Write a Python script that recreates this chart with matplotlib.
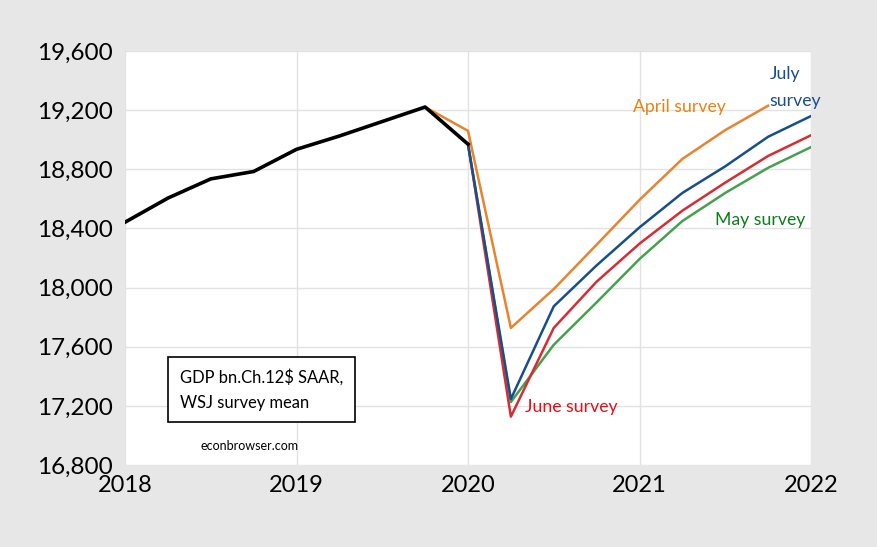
import matplotlib.pyplot as plt

# quarterly dates (decimal years)
actual_dates = [2018.0, 2018.25, 2018.5, 2018.75, 2019.0, 2019.25, 2019.5, 2019.75, 2020.0]
actual_gdp = [18442, 18605, 18735, 18785, 18935, 19025, 19123, 19221, 18970]

april_dates = [2019.75, 2020.0, 2020.25, 2020.5, 2020.75, 2021.0, 2021.25, 2021.5, 2021.75]
april_gdp = [19221, 19060, 17727, 17990, 18290, 18593, 18870, 19065, 19230]

survey_dates = [2020.0, 2020.25, 2020.5, 2020.75, 2021.0, 2021.25, 2021.5, 2021.75, 2022.0]
may_gdp = [18970, 17226, 17613, 17900, 18193, 18450, 18640, 18810, 18950]
june_gdp = [18970, 17127, 17727, 18040, 18297, 18520, 18710, 18890, 19030]
july_gdp = [18970, 17246, 17873, 18150, 18407, 18640, 18820, 19020, 19160]

yticks = [16800, 17200, 17600, 18000, 18400, 18800, 19200, 19600]
xticks = [2018, 2019, 2020, 2021, 2022]

bg = '#e7e7e7'
plt.rcParams['font.family'] = ['Lato', 'DejaVu Sans']

fig = plt.figure(figsize=(8.78, 5.47), dpi=100, facecolor=bg)
ax = fig.add_axes([125/878, 1 - 465/547, (811 - 125)/878, (465 - 51)/547])
ax.set_facecolor('white')

ax.plot(april_dates, april_gdp, color='#e8832f', lw=1.8)
ax.plot(survey_dates, may_gdp, color='#46a050', lw=1.8)
ax.plot(survey_dates, june_gdp, color='#d62d34', lw=1.8)
ax.plot(survey_dates, july_gdp, color='#174e8c', lw=1.8)
ax.plot(actual_dates, actual_gdp, color='black', lw=2.6)

ax.set_xlim(2018, 2022)
ax.set_ylim(16800, 19600)
ax.set_xticks(xticks)
ax.set_yticks(yticks)
ax.set_xticklabels([str(x) for x in xticks])
ax.set_yticklabels([f'{y:,}' for y in yticks])
ax.tick_params(axis='x', length=0, labelsize=17, pad=7)
ax.tick_params(axis='y', length=0, labelsize=17.5, pad=9)
ax.grid(True, color='#e2e2e2', lw=1)
ax.set_axisbelow(True)
for s in ax.spines.values():
    s.set_visible(False)

ax.text(2020.96, 19219, 'April survey', color='#e8830f', fontsize=12.7, ha='left', va='center')
ax.text(2021.76, 19443, 'July', color='#174e8c', fontsize=12.7, ha='left', va='center')
ax.text(2021.76, 19261, 'survey', color='#174e8c', fontsize=12.7, ha='left', va='center')
ax.text(2021.44, 18455, 'May survey', color='#0a7d1a', fontsize=12.7, ha='left', va='center')
ax.text(2020.33, 17194, 'June survey', color='#e0101a', fontsize=12.7, ha='left', va='center')

ax.text(2018.32, 17310, 'GDP bn.Ch.12$ SAAR,\nWSJ survey mean', fontsize=11.9,
        ha='left', va='center', linespacing=1.75,
        bbox=dict(boxstyle='square,pad=0.7', fc='white', ec='black', lw=1.2))
ax.text(2018.44, 16930, 'econbrowser.com', fontsize=9, ha='left', va='center')

fig.savefig('out.png', dpi=100, facecolor=bg)
